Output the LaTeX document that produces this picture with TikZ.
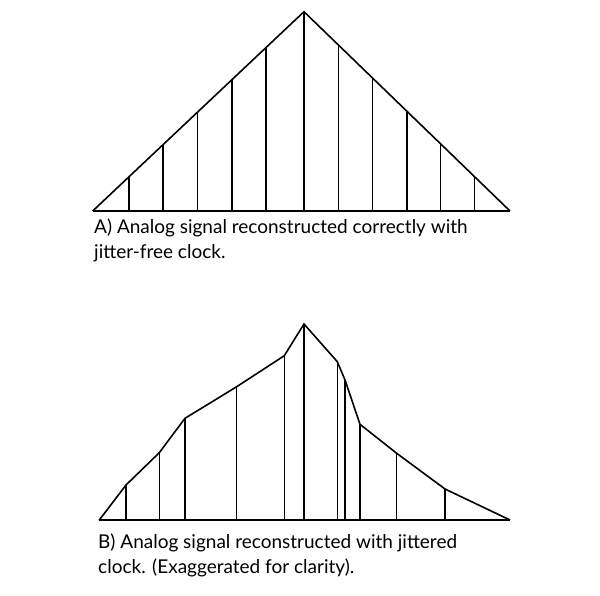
\documentclass[tikz,border=0pt]{standalone}
\usepackage{fontspec}
\setmainfont{Lato}
\begin{document}
\begin{tikzpicture}[x=1pt,y=-1pt,
  sig/.style={line width=1.6pt,line join=miter},
  smp/.style={line width=1.4pt},
  baseln/.style={line width=2pt},
  captext/.style={anchor=base west,inner sep=0pt,font=\fontsize{19}{24}\selectfont}]
\useasboundingbox (0,0) rectangle (600,595);
% ---- A ----
\coordinate (aL) at (92.7,211);
\coordinate (aT) at (304,11.7);
\coordinate (aR) at (510,211);
\draw[baseln] (aL) -- (aR);
\draw[sig] (aL) -- (aT) -- (aR);
\foreach \x in {129,163,197.3,232,266}{
  \draw[smp] (\x,211) -- (\x,{211-0.9418*(\x-92.7)});
}
\draw[smp] (aT) -- (304,211);
\foreach \x in {338.7,372.7,407,440.7,474.3}{
  \draw[smp] (\x,211) -- (\x,{211-0.9660*(510-\x)});
}
\node[captext] (capA1) at (94,233) {A) Analog signal reconstructed correctly with};
\node[captext] (capA2) at (94,258) {jitter-free clock.};
% ---- B ----
\coordinate (b0) at (99.3,520);
\coordinate (b1) at (126,485);
\coordinate (b2) at (159.3,452.7);
\coordinate (b3) at (185,418.3);
\coordinate (b4) at (236.7,386.7);
\coordinate (b5) at (284.3,355.7);
\coordinate (b6) at (304,324);
\coordinate (b7) at (337.3,361.7);
\coordinate (b8) at (345,380);
\coordinate (b9) at (360,424.3);
\coordinate (b10) at (396.7,453.3);
\coordinate (b11) at (445,489);
\coordinate (b12) at (510,520);
\draw[baseln] (b0) -- (b12);
\draw[sig] (b0) -- (b1) -- (b2) -- (b3) -- (b4) -- (b5) -- (b6) -- (b7) -- (b8) -- (b9) -- (b10) -- (b11) -- (b12);
\foreach \i in {1,...,11}{
  \draw[smp] (b\i) -- (b\i |- b0);
}
\node[captext] (capB1) at (98,548) {B) Analog signal reconstructed with jittered};
\node[captext] (capB2) at (98,573) {clock. (Exaggerated for clarity).};
\end{tikzpicture}
\end{document}
